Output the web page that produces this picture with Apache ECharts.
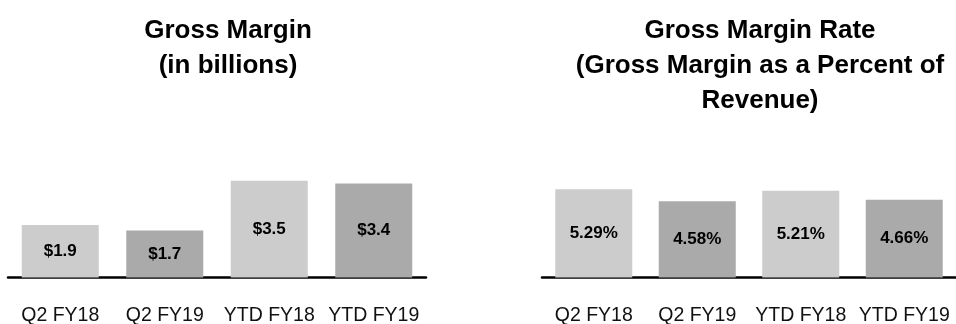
<!DOCTYPE html>
<html>
<head>
<meta charset="utf-8">
<script src="https://cdn.jsdelivr.net/npm/echarts@6/dist/echarts.min.js"></script>
<style>
  html, body { margin: 0; padding: 0; background: #fff; }
  #chart { width: 956px; height: 324px; }
</style>
</head>
<body>
<div id="chart"></div>
<script>
var categories = ['Q2 FY18', 'Q2 FY19', 'YTD FY18', 'YTD FY19'];
var marginValues = [1.9, 1.7, 3.5, 3.4];
var rateValues = [5.29, 4.58, 5.21, 4.66];

var FONT = '"Liberation Sans", Arial, sans-serif';
var barColors = ['#cccccc', '#aaaaaa'];

var myChart = echarts.init(document.getElementById('chart'));
var option;

function xAxisFor(idx) {
  return {
    type: 'category',
    gridIndex: idx,
    data: categories,
    axisTick: { show: false },
    axisLine: { lineStyle: { color: '#000', width: 2.5 } },
    axisLabel: { interval: 0, color: '#111', fontFamily: FONT, fontSize: 19.5, margin: 28 }
  };
}

function yAxisFor(idx, max) {
  return {
    type: 'value',
    gridIndex: idx,
    min: 0,
    max: max,
    show: false,
    splitLine: { show: false }
  };
}

function barSeries(idx, values, fmt) {
  return {
    type: 'bar',
    xAxisIndex: idx,
    yAxisIndex: idx,
    data: values,
    barWidth: 77,
    itemStyle: {
      color: function (p) { return barColors[p.dataIndex % 2]; }
    },
    label: {
      show: true,
      position: 'inside',
      color: '#000',
      fontFamily: FONT,
      fontWeight: 'bold',
      fontSize: 17,
      formatter: fmt
    }
  };
}

option = {
  animation: false,
  backgroundColor: '#fff',
  title: [
    {
      text: 'Gross Margin\n(in billions)',
      left: 223, top: 8,
      textAlign: 'center',
      textStyle: { fontFamily: FONT, fontWeight: 'bold', fontSize: 26, lineHeight: 35, color: '#000' }
    },
    {
      text: 'Gross Margin Rate\n(Gross Margin as a Percent of\nRevenue)',
      left: 755, top: 8,
      textAlign: 'center',
      textStyle: { fontFamily: FONT, fontWeight: 'bold', fontSize: 26, lineHeight: 35, color: '#000' }
    }
  ],
  grid: [
    { left: 8, width: 418, top: 167, height: 110.5, outerBoundsMode: 'none' },
    { left: 542, width: 414, top: 177.5, height: 100, outerBoundsMode: 'none' }
  ],
  xAxis: [xAxisFor(0), xAxisFor(1)],
  yAxis: [yAxisFor(0, 4), yAxisFor(1, 6)],
  series: [
    barSeries(0, marginValues, function (p) { return '$' + p.value.toFixed(1); }),
    barSeries(1, rateValues, function (p) { return p.value.toFixed(2) + '%'; })
  ]
};

option && myChart.setOption(option);
</script>
</body>
</html>
